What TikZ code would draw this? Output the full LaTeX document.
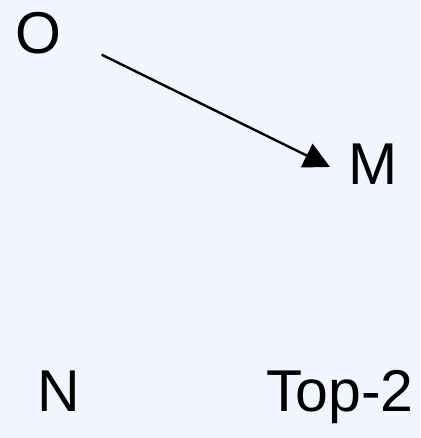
\documentclass[tikz,border=0pt]{standalone}
\usepackage{xcolor}
\usepackage{fontspec}
\setmainfont{Liberation Sans}
\usepackage{tikz}
\usetikzlibrary{arrows.meta}

\definecolor{paleblue}{HTML}{F0F5FF}

\begin{document}
\begin{tikzpicture}[x=1pt, y=1pt, every node/.style={inner sep=0pt, outer sep=0pt, font=\fontsize{59}{59}\selectfont, anchor=base west}]
                \fill[paleblue] (0,0) rectangle (420,438);
                \useasboundingbox (0,0) rectangle (420,438);

                \node (o) at (15,384) {O};
                \node (m) at (348,253) {M};
                \node (n) at (37.5,26) {N};
                \node (top) at (266,26) {Top-2};

                % free ends of the arrow
                \coordinate (oStart) at (101.7,383.3);
                \coordinate (mEnd) at (330,271);
                \draw[-{Triangle[length=26pt, width=26pt]}, line width=2.4pt] (oStart) -- (mEnd);
            \end{tikzpicture}
\end{document}
